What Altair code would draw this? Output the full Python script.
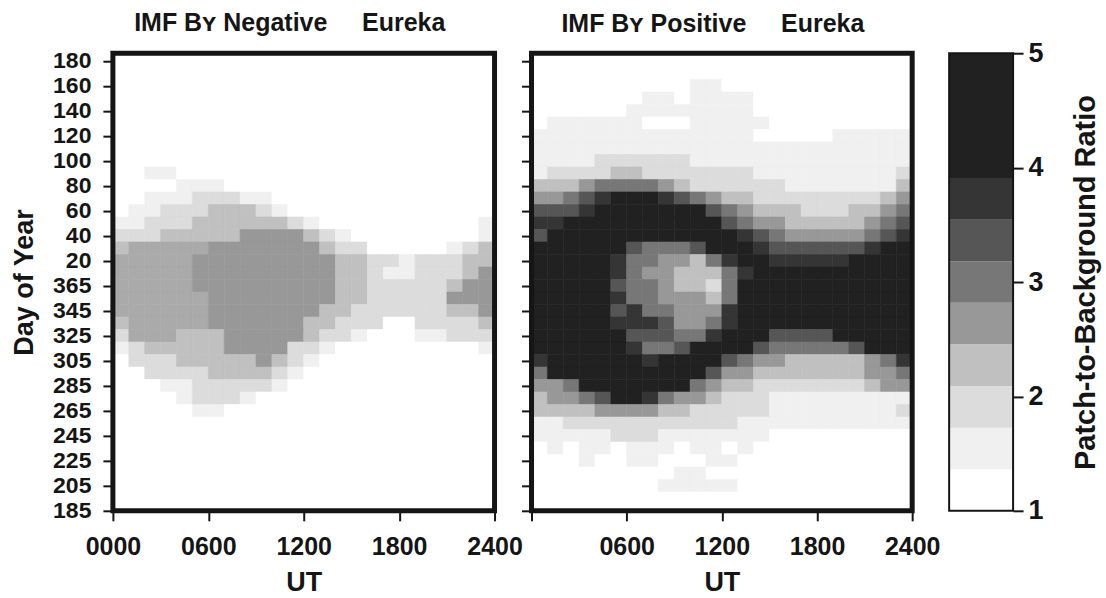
import altair as alt
import pandas as pd

FONT = "Liberation Sans"

# ---- data -------------------------------------------------------------
UT_TICKS = [0, 6, 12, 18, 24]              # hours
UT_DOMAIN = [0, 24]
DAY_TICKS = list(range(0, 361, 20))        # days counted from day 185
DAY_DOMAIN = [0, 366]
HOUR_BINS = list(range(24))                # one-hour columns
DAY_BIN = 10                               # ten-day rows (centres 0,10,...,360)

# level codes per cell, rows listed from top (day 180) to bottom (day 185)
NEG_ROWS = [
    "000000000000000000000000",
    "000000000000000000000000",
    "000000000000000000000000",
    "000000000000000000000000",
    "000000000000000000000000",
    "000000000000000000000000",
    "000000000000000000000000",
    "000000000000000000000000",
    "000000000000000000000000",
    "001100000000000000000000",
    "000011100000000000000000",
    "001112221100000000000000",
    "011222333210000000000000",
    "112223333332100000000001",
    "222333334444321000000001",
    "3LLLLL444444432200000123",
    "LLLLL4444444443322122233",
    "LLLLL4444444443321122234",
    "LLLLL4444444443322222344",
    "LLLLLL444444443322222444",
    "LLLLLL444444433222222334",
    "3LLLLL444444332220022223",
    "2LLL33344444322100011222",
    "123333344442210000000001",
    "022233333432100000000000",
    "002222333321000000000000",
    "000112222210000000000000",
    "000012221000000000000000",
    "000001100000000000000000",
    "000000000000000000000000",
    "000000000000000000000000",
    "000000000000000000000000",
    "000000000000000000000000",
    "000000000000000000000000",
    "000000000000000000000000",
    "000000000000000000000000",
    "000000000000000000000000",
]

POS_ROWS = [
    "000000000000000000000000",
    "000000000000000000000000",
    "000000000011000000000000",
    "000000011011110000000000",
    "000000111111110000000000",
    "011111100011111000000000",
    "111111111111110000011111",
    "111111111111111111111111",
    "111122222211111111111111",
    "122223322222221111111112",
    "333455554322222211111113",
    "445678887654332222222234",
    "666788888886543332223345",
    "778888888888654433333456",
    "688888888888876544444567",
    "888888655568887666666788",
    "888887554435788777778888",
    "888887544333578888888888",
    "888886554332588888888888",
    "888887554443588888888888",
    "888886755444788888888888",
    "888887776445788888888888",
    "888888666557888666688888",
    "888888755688886555556888",
    "788888878888654433333457",
    "588888888886443333333445",
    "445888888854332222222344",
    "344568875443222111111111",
    "333344443322222111111112",
    "112222222222211111111111",
    "111112221111111000000000",
    "010110111011010000000000",
    "000100110001100000000000",
    "000000000110000000000000",
    "000000001111100000000000",
    "000000000000000000000000",
    "000000000000000000000000",
]

LEVEL_CODES = ["0", "1", "2", "3", "L", "4", "5", "6", "7", "8"]
LEVEL_COLORS = ["#ffffff", "#f0f0f0", "#dcdcdc", "#c0c0c0", "#aaaaaa",
                "#989898", "#777777", "#565656", "#353535", "#212121"]

BAND_CODES = ["0", "1", "2", "3", "4", "5", "6", "7", "8"]
BAND_EDGES = [1.0, 1.364, 1.727, 2.091, 2.455, 2.818, 3.182, 3.545, 3.909, 5.0]
RATIO_TICKS = [1, 2, 3, 4, 5]
RATIO_DOMAIN = [1, 5]


def panel_frame(rows):
    recs = []
    n = len(rows)
    for r, s in enumerate(rows):
        i = n - 1 - r
        for k, ch in zip(HOUR_BINS, s):
            recs.append({"hour": k, "hour_end": k + 1,
                         "day_lo": DAY_BIN * i - DAY_BIN / 2,
                         "day_hi": DAY_BIN * i + DAY_BIN / 2,
                         "level": ch})
    return pd.DataFrame(recs)


neg_df = panel_frame(NEG_ROWS)
pos_df = panel_frame(POS_ROWS)
cb_df = pd.DataFrame({"lo": BAND_EDGES[:-1], "hi": BAND_EDGES[1:], "level": BAND_CODES})
one_row = pd.DataFrame({"n": [0]})

color_scale = alt.Scale(domain=LEVEL_CODES, range=LEVEL_COLORS)

H = 458
DAY_LABEL = "datum.value <= 180 ? datum.value + 185 : datum.value - 180"
UT_LABEL = "datum.value < 10 ? '0' + datum.value + '00' : datum.value + '00'"
INK = "#151515"


def heat(df, title_text, title_dx, left, width):
    x_axis = alt.Axis(
        values=UT_TICKS, tickCount=len(UT_TICKS),
        labelExpr=UT_LABEL if left else "datum.value == 0 ? '' : (" + UT_LABEL + ")",
        title="UT", tickSize=10, tickWidth=2, tickColor=INK, domain=False,
        grid=False, labelPadding=14, titlePadding=10,
        labelFlush=False, labelOverlap=False,
    )
    if left:
        y_axis = alt.Axis(values=DAY_TICKS, tickCount=len(DAY_TICKS),
                          labelExpr=DAY_LABEL, title="Day of Year",
                          tickSize=10, tickWidth=2, tickColor=INK, domain=False,
                          grid=False, labelPadding=12, titlePadding=14,
                          labelFontSize=23,
                          labelFlush=False, labelOverlap=False)
    else:
        y_axis = alt.Axis(values=DAY_TICKS, tickCount=len(DAY_TICKS),
                          labels=False, title=None,
                          tickSize=10, tickWidth=2, tickColor=INK, domain=False,
                          grid=False)
    xs = alt.Scale(domain=UT_DOMAIN, nice=False, zero=False)
    ys = alt.Scale(domain=DAY_DOMAIN, nice=False, zero=False)
    cells = alt.Chart(df).mark_rect(clip=True, strokeWidth=0.6).encode(
        x=alt.X("hour:Q", scale=xs, axis=x_axis),
        x2="hour_end:Q",
        y=alt.Y("day_lo:Q", scale=ys, axis=y_axis),
        y2="day_hi:Q",
        color=alt.Color("level:N", scale=color_scale, legend=None),
        stroke=alt.Stroke("level:N", scale=color_scale, legend=None),
    )
    frame = alt.Chart(one_row).mark_rect(filled=False, stroke=INK, strokeWidth=5).encode(
        x=alt.datum(UT_DOMAIN[0]), x2=alt.datum(UT_DOMAIN[1]),
        y=alt.datum(DAY_DOMAIN[0]), y2=alt.datum(DAY_DOMAIN[1]),
    )
    return alt.layer(cells, frame).properties(
        width=width, height=H,
        title=alt.TitleParams(title_text, fontSize=25, font=FONT, fontWeight="bold",
                              color=INK, dx=title_dx, offset=14),
    )


NB = "\u00a0"
left = heat(neg_df, "IMF B\u028f Negative" + NB * 5 + "Eureka", -14, True, 382)
right = heat(pos_df, "IMF B\u028f Positive" + NB * 5 + "Eureka", -9, False, 381)

cb_bands = alt.Chart(cb_df).mark_rect().encode(
    y=alt.Y("lo:Q", scale=alt.Scale(domain=RATIO_DOMAIN, nice=False, zero=False),
            axis=alt.Axis(orient="right", values=RATIO_TICKS, tickCount=len(RATIO_TICKS),
                          format="d",
                          title="Patch-to-Background Ratio", titleAngle=270,
                          titleBaseline="top",
                          tickSize=10, tickWidth=2, tickColor=INK, domain=False,
                          grid=False, labelPadding=5, titlePadding=28,
                          labelFlush=False, labelOverlap=False,
                          labelFontSize=27, titleFontSize=29)),
    y2="hi:Q",
    color=alt.Color("level:N", scale=color_scale, legend=None),
)
cb_frame = alt.Chart(one_row).mark_rect(filled=False, stroke=INK, strokeWidth=2).encode(
    y=alt.datum(RATIO_DOMAIN[0]), y2=alt.datum(RATIO_DOMAIN[1]),
)
cbar = alt.layer(cb_bands, cb_frame).properties(width=64, height=H)

chart = alt.hconcat(left, right, cbar, spacing=37, bounds="flush").properties(
    padding={"left": 10, "top": 10, "right": 5, "bottom": 5},
    background="white",
).configure_view(
    stroke=None,
).configure_axis(
    labelFont=FONT, titleFont=FONT, labelFontWeight="bold", titleFontWeight="bold",
    labelFontSize=25, titleFontSize=27, labelColor=INK, titleColor=INK,
    labelOverlap=False, labelFlush=False,
).configure_title(anchor="middle")

chart.save("out.html", embed_options={"renderer": "svg", "actions": False})
